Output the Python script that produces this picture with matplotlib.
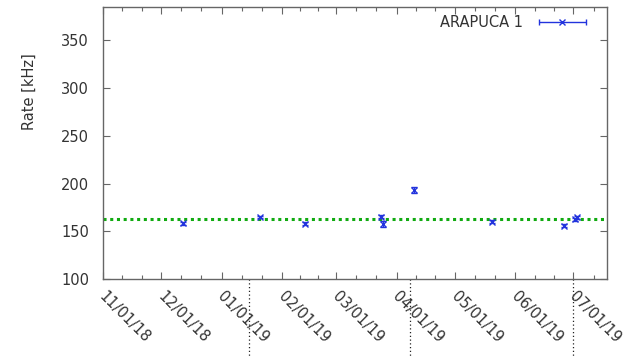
import matplotlib
matplotlib.use("Agg")
import matplotlib.pyplot as plt
import matplotlib.transforms as mtransforms
from matplotlib.ticker import MultipleLocator
import datetime as dt

# ---- data ----
dates = ["2018-12-12", "2019-01-21", "2019-02-13", "2019-03-24", "2019-03-25",
         "2019-04-10", "2019-05-20", "2019-06-26", "2019-07-02", "2019-07-03"]
rates = [158.5, 165.0, 157.8, 165.4, 157.5, 193.3, 159.9, 156.0, 162.5, 164.5]
errors = [1.5, 1.5, 1.5, 1.5, 2.8, 2.8, 1.5, 1.5, 1.5, 2.0]
mean_rate = 163.0
marker_dates = ["2019-01-15", "2019-04-08", "2019-07-01"]
tick_dates = ["2018-11-01", "2018-12-01", "2019-01-01", "2019-02-01", "2019-03-01",
              "2019-04-01", "2019-05-01", "2019-06-01", "2019-07-01"]
tick_labels = ["11/01/18", "12/01/18", "01/01/19", "02/01/19", "03/01/19",
               "04/01/19", "05/01/19", "06/01/19", "07/01/19"]
series_label = "ARAPUCA 1"
x_start, x_end = "2018-11-01", "2019-07-18"
y_min, y_max = 100, 385

to_dt = lambda s: dt.datetime.strptime(s, "%Y-%m-%d")
xd = [to_dt(d) for d in dates]

TXT = "#333333"
SP = "#666666"
BLUE = "#2233dd"

fig = plt.figure(figsize=(6.35, 3.58), dpi=100)
ax = fig.add_axes([103 / 635, 1 - 279 / 358, (606.5 - 103) / 635, (279 - 7) / 358])

ax.errorbar(xd, rates, yerr=errors, fmt="x", color=BLUE, ms=4.5, mew=1.0,
            elinewidth=1.0, capsize=2.5, capthick=1.0, zorder=3)
ax.axhline(mean_rate, color="#11aa11", lw=2.2, ls=(0, (1, 1.2)), zorder=2)

ax.set_xlim(to_dt(x_start), to_dt(x_end))
ax.set_ylim(y_min, y_max)

# vertical dotted markers below the axes
for d in marker_dates:
    ax.plot([to_dt(d), to_dt(d)], [y_min, y_min - 90], color="#222222", lw=0.9,
            ls=(0, (1, 2)), clip_on=False, zorder=1)

ax.set_xticks([to_dt(d) for d in tick_dates])
ax.set_xticklabels(tick_labels)
minor = []
for i in range(len(tick_dates)):
    t0 = to_dt(tick_dates[i])
    t1 = to_dt(tick_dates[i + 1]) if i + 1 < len(tick_dates) else to_dt("2019-08-01")
    span = (t1 - t0) / 3
    for k in (1, 2):
        m = t0 + span * k
        if m <= to_dt(x_end):
            minor.append(m)
ax.set_xticks(minor, minor=True)
ax.yaxis.set_major_locator(MultipleLocator(50))

for s in ax.spines.values():
    s.set_color(SP)
    s.set_linewidth(1.0)

ax.tick_params(axis="both", which="both", direction="in", colors=SP,
               top=True, right=True, labelcolor=TXT, labelsize=10.5)
ax.tick_params(axis="both", which="major", length=5, width=0.8)
ax.tick_params(axis="x", which="minor", length=3, width=0.8)
ax.tick_params(axis="y", which="major", pad=10)
ax.tick_params(axis="x", which="major", pad=6)
offset = mtransforms.ScaledTranslation(4 / 100, -1 / 100, fig.dpi_scale_trans)
for lab in ax.get_xticklabels():
    lab.set_rotation(-45)
    lab.set_ha("left")
    lab.set_va("top")
    lab.set_rotation_mode("anchor")
    lab.set_transform(lab.get_transform() + offset)

ax.set_ylabel("Rate [kHz]", color=TXT, fontsize=10.5)
ax.yaxis.set_label_coords(-0.131, 0.69)

# legend drawn in gnuplot key style
ax.text(0.835, 0.944, series_label, transform=ax.transAxes, ha="right", va="center",
        color=TXT, fontsize=10.5)
ax.errorbar([0.912], [0.944], xerr=[0.047], fmt="x", color=BLUE, ms=4.5, mew=1.0,
            elinewidth=1.0, capsize=2.5, capthick=1.0, transform=ax.transAxes,
            clip_on=False)

fig.savefig("out.png", dpi=100)
